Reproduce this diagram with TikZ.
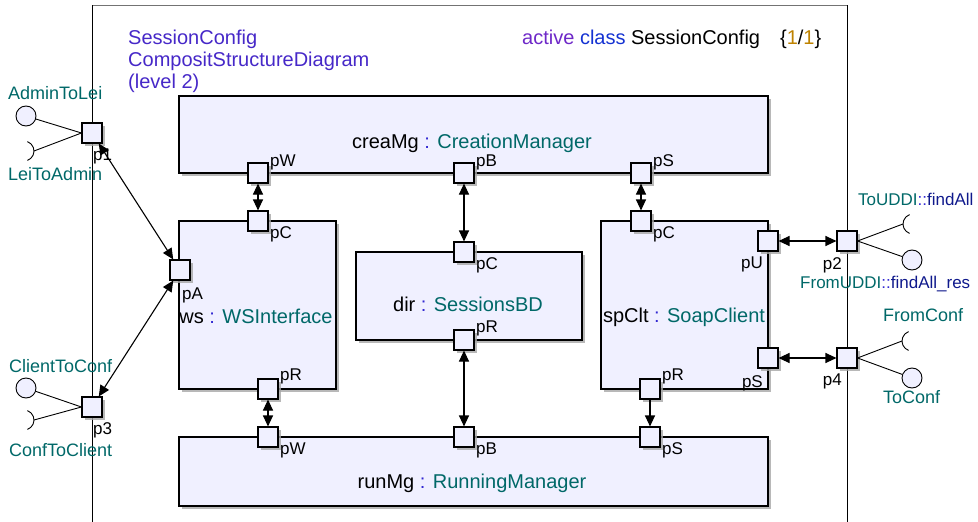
\documentclass[tikz,border=0pt]{standalone}
\usepackage{fontspec}
\setmainfont{Liberation Sans}
\usetikzlibrary{arrows.meta,shadows}
\definecolor{boxfill}{RGB}{240,240,255}
\definecolor{typeteal}{RGB}{0,104,104}
\definecolor{colonblue}{RGB}{50,40,210}
\definecolor{titleblue}{RGB}{70,40,200}
\definecolor{actpurple}{RGB}{110,40,200}
\definecolor{clsblue}{RGB}{20,50,210}
\definecolor{numgold}{RGB}{190,130,0}
\definecolor{navy}{RGB}{15,25,140}
\begin{document}
\begin{tikzpicture}[x=1pt,y=-1pt,
  shad/.style={drop shadow={shadow xshift=3pt,shadow yshift=-3pt,fill=black!35,opacity=0.8}},
  box/.style={rectangle,draw=black,line width=1.1pt,fill=boxfill,inner sep=0pt,shad},
  port/.style={rectangle,draw=black,line width=1.1pt,fill=boxfill,minimum size=20pt,inner sep=0pt,shad},
  ball/.style={circle,draw=black,line width=0.9pt,fill=boxfill,minimum size=20pt,inner sep=0pt},
  plbl/.style={font=\fontsize{17}{19}\selectfont,inner sep=0pt,text=black},
  ilbl/.style={font=\fontsize{18}{20}\selectfont,inner sep=0pt,text=typeteal},
  blbl/.style={font=\fontsize{20}{22}\selectfont,inner sep=0pt,anchor=base},
  conn/.style={line width=1.1pt,{Triangle[length=11pt,width=10pt]}-{Triangle[length=11pt,width=10pt]}},
  oneway/.style={line width=1.1pt,-{Triangle[length=11pt,width=10pt]}},
  ifc/.style={line width=0.9pt}
]
\useasboundingbox (0,0) rectangle (978,522);
% outer frame
\coordinate (fTL) at (92,5);
\coordinate (fTR) at (847,5);
\coordinate (fBL) at (92,522);
\coordinate (fBR) at (847,522);
\draw[line width=1pt,black!55] (fTL) -- (fTR);
\draw[line width=0.8pt] (fTL) -- (fBL);
\draw[line width=0.8pt] (fTR) -- (fBR);

% titles
\node[anchor=north west,align=left,inner sep=0pt,font=\fontsize{20}{22}\selectfont,text=titleblue] (title) at (128,30)
  {SessionConfig\\CompositStructureDiagram\\(level 2)};
\node[anchor=base west,inner sep=0pt,font=\fontsize{20}{22}\selectfont] (acls) at (522,45)
  {\textcolor{actpurple}{active} \textcolor{clsblue}{class} SessionConfig\hspace{20pt}\{\textcolor{numgold}{1}/\textcolor{numgold}{1}\}};

% parts
\node[box,minimum width=589pt,minimum height=77pt] (crea) at (473.5,134.5) {};
\node[box,minimum width=157pt,minimum height=168pt] (ws) at (257.5,305) {};
\node[box,minimum width=226pt,minimum height=88pt] (dir) at (469,296) {};
\node[box,minimum width=167pt,minimum height=168pt] (sp) at (684.5,305) {};
\node[box,minimum width=589pt,minimum height=69pt] (run) at (473.5,471.5) {};

\node[blbl] (creaL) at (472,148) {creaMg \textcolor{colonblue}{:} \textcolor{typeteal}{CreationManager}};
\node[blbl] (wsL) at (256,323) {ws \textcolor{colonblue}{:} \textcolor{typeteal}{WSInterface}};
\node[blbl] (dirL) at (468,311) {dir \textcolor{colonblue}{:} \textcolor{typeteal}{SessionsBD}};
\node[blbl] (spL) at (684,322) {spClt \textcolor{colonblue}{:} \textcolor{typeteal}{SoapClient}};
\node[blbl] (runL) at (472,488) {runMg \textcolor{colonblue}{:} \textcolor{typeteal}{RunningManager}};

% interface symbols (left)
\node[ball] (b1) at (26,116) {};
\coordinate (s1) at (34,151);
\node[ball] (b3) at (26,388) {};
\coordinate (s3) at (34,420);
% interface symbols (right)
\coordinate (s2) at (903,224);
\node[ball] (b2) at (912,260) {};
\coordinate (s4) at (902,341);
\node[ball] (b4) at (912,378) {};

% boundary ports
\node[port] (p1) at (92,133) {};
\node[port] (p3) at (92,407) {};
\node[port] (p2) at (847,241) {};
\node[port] (p4) at (847,358) {};

\draw[ifc] (b1) -- (p1.west);
\draw[ifc] (s1) -- (p1.west);
\draw[ifc] ([shift={(70:10)}]24,151) arc[start angle=70,end angle=-70,radius=10];
\draw[ifc] (b3) -- (p3.west);
\draw[ifc] (s3) -- (p3.west);
\draw[ifc] ([shift={(70:10)}]24,420) arc[start angle=70,end angle=-70,radius=10];
\draw[ifc] (s2) -- (p2.east);
\draw[ifc] (b2) -- (p2.east);
\draw[ifc] ([shift={(110:10)}]913,224) arc[start angle=110,end angle=250,radius=10];
\draw[ifc] (s4) -- (p4.east);
\draw[ifc] (b4) -- (p4.east);
\draw[ifc] ([shift={(110:10)}]912,341) arc[start angle=110,end angle=250,radius=10];

% part ports
\node[port] (cpW) at (258,173) {};
\node[port] (cpB) at (464,173) {};
\node[port] (cpS) at (641,173) {};
\node[port] (wpC) at (258,221) {};
\node[port] (wpA) at (180,270) {};
\node[port] (wpR) at (268,389) {};
\node[port] (dpC) at (464,252) {};
\node[port] (dpR) at (464,340) {};
\node[port] (spC) at (641,221) {};
\node[port] (spU) at (768,241) {};
\node[port] (spS) at (768,358) {};
\node[port] (spR) at (650,389) {};
\node[port] (rpW) at (268,437) {};
\node[port] (rpB) at (464,437) {};
\node[port] (rpS) at (650,437) {};

% port labels
\node[plbl,anchor=base west] (lcpW) at (270,166) {pW};
\node[plbl,anchor=base west] (lcpB) at (476,166) {pB};
\node[plbl,anchor=base west] (lcpS) at (653,166) {pS};
\node[plbl,anchor=base west] (lwpC) at (270,238) {pC};
\node[plbl,anchor=base west] (lwpA) at (182,299) {pA};
\node[plbl,anchor=base west] (lwpR) at (280,380) {pR};
\node[plbl,anchor=base west] (ldpC) at (476,269) {pC};
\node[plbl,anchor=base west] (ldpR) at (476,332) {pR};
\node[plbl,anchor=base west] (lspC) at (653,238) {pC};
\node[plbl,anchor=base east] (lspU) at (763,268) {pU};
\node[plbl,anchor=base east] (lspS) at (763,387) {pS};
\node[plbl,anchor=base west] (lspR) at (662,380) {pR};
\node[plbl,anchor=base west] (lrpW) at (280,454) {pW};
\node[plbl,anchor=base west] (lrpB) at (476,454) {pB};
\node[plbl,anchor=base west] (lrpS) at (662,454) {pS};
\node[plbl,anchor=base west] (lp1) at (93,160) {p1};
\node[plbl,anchor=base west] (lp3) at (93,434) {p3};
\node[plbl,anchor=base east] (lp2) at (842,269) {p2};
\node[plbl,anchor=base east] (lp4) at (842,385) {p4};

% interface labels
\node[ilbl,anchor=base west] (iAL) at (8,99) {AdminToLei};
\node[ilbl,anchor=base west] (iLA) at (8,180) {LeiToAdmin};
\node[ilbl,anchor=base west] (iCC) at (9,372) {ClientToConf};
\node[ilbl,anchor=base west] (iCT) at (9,456) {ConfToClient};
\node[ilbl,anchor=base west,font=\fontsize{17}{19}\selectfont] (iTU) at (858,205) {ToUDDI\textcolor{colonblue}{::}\textcolor{navy}{findAll}};
\node[ilbl,anchor=base west,font=\fontsize{17}{19}\selectfont] (iFU) at (800,288) {FromUDDI\textcolor{colonblue}{::}\textcolor{navy}{findAll\_res}};
\node[ilbl,anchor=base west] (iFC) at (883,321) {FromConf};
\node[ilbl,anchor=base west] (iTC) at (883,403) {ToConf};

% connectors
\draw[conn] (p1) -- (wpA);
\draw[conn] (p3) -- (wpA);
\draw[conn] (cpW) -- (wpC);
\draw[conn] (cpB) -- (dpC);
\draw[conn] (cpS) -- (spC);
\draw[conn] (wpR) -- (rpW);
\draw[conn] (dpR) -- (rpB);
\draw[oneway] (spR) -- (rpS);
\draw[conn] (spU) -- (p2);
\draw[conn] (spS) -- (p4);
\end{tikzpicture}
\end{document}
